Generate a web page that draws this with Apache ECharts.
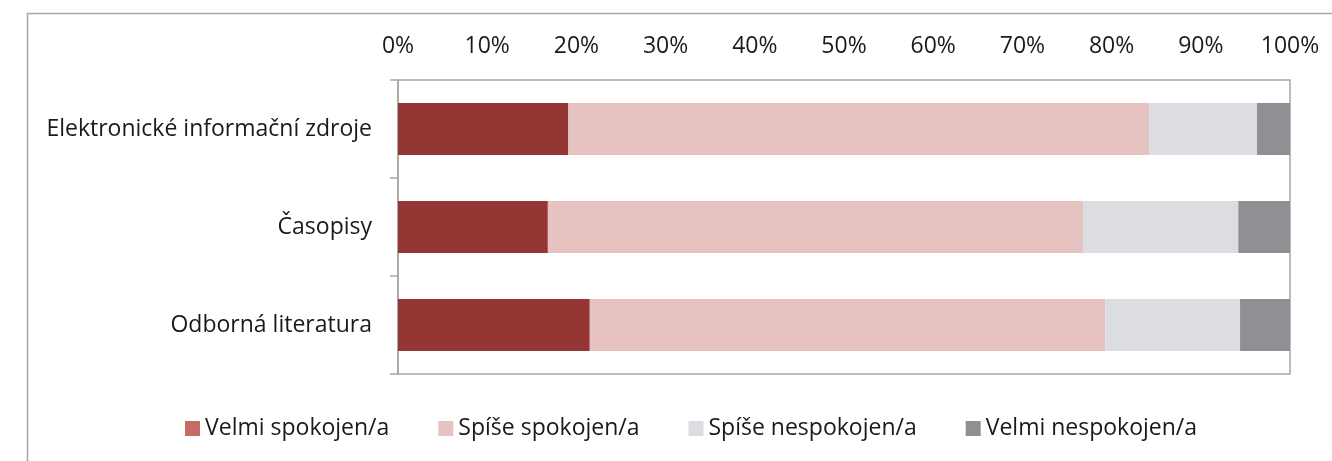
<!DOCTYPE html>
<html>
<head>
<meta charset="utf-8">
<script src="https://cdn.jsdelivr.net/npm/echarts@6/dist/echarts.min.js"></script>
<style>
  html, body { margin: 0; padding: 0; background: #fff; }
  #chart { width: 1332px; height: 461px; }
</style>
</head>
<body>
<div id="chart"></div>
<script>
var categories = ['Elektronické informační zdroje', 'Časopisy', 'Odborná literatura'];
var seriesNames = ['Velmi spokojen/a', 'Spíše spokojen/a', 'Spíše nespokojen/a', 'Velmi nespokojen/a'];
var velmiSpokojen = [19.1, 16.8, 21.5];
var spiseSpokojen = [65.1, 60.0, 57.8];
var spiseNespokojen = [12.1, 17.4, 15.1];
var velmiNespokojen = [3.7, 5.8, 5.6];

var colors = ['#943634', '#e6c3c1', '#dcdde1', '#8e9093'];
var legendColors = ['#c96b65', '#e6c3c1', '#dcdde1', '#8e9093'];
var font = 'Open Sans';
var fontSize = 23;

var chart = echarts.init(document.getElementById('chart'));

function bar(name, data, i) {
    return {
        name: name,
        type: 'bar',
        stack: 'total',
        barWidth: '53%',
        itemStyle: { color: colors[i] },
        data: data
    };
}

var option = {
    animation: false,
    textStyle: { fontFamily: font },
    graphic: [{
        type: 'rect',
        shape: { x: 27.5, y: 13.5, width: 1400, height: 500 },
        style: { fill: 'none', stroke: '#a6a6a6', lineWidth: 1.5 },
        silent: true
    }],
    grid: {
        left: 398, right: 42, top: 80, height: 294,
        show: true, borderColor: '#a6a6a6', borderWidth: 1.5,
        containLabel: false
    },
    legend: {
        top: 412,
        left: 180,
        itemWidth: 15,
        itemHeight: 15,
        itemGap: 49,
        icon: 'rect',
        textStyle: { fontFamily: font, fontSize: fontSize, color: '#1a1a1a' },
        data: seriesNames.map(function (n, i) {
            return { name: n, itemStyle: { color: legendColors[i] } };
        })
    },
    xAxis: {
        type: 'value',
        position: 'top',
        min: 0,
        max: 100,
        interval: 10,
        axisLine: { show: false },
        axisTick: { show: false },
        splitLine: { show: false },
        axisLabel: {
            formatter: '{value}%',
            margin: 22,
            fontFamily: font,
            fontSize: fontSize,
            color: '#1a1a1a'
        }
    },
    yAxis: {
        type: 'category',
        inverse: true,
        data: categories,
        axisLine: { show: true, lineStyle: { color: '#a6a6a6', width: 1.5 } },
        axisTick: { show: true, length: 8, lineStyle: { color: '#a6a6a6', width: 1.5 } },
        axisLabel: {
            margin: 26,
            fontFamily: font,
            fontSize: fontSize,
            color: '#1a1a1a'
        }
    },
    series: [
        bar(seriesNames[0], velmiSpokojen, 0),
        bar(seriesNames[1], spiseSpokojen, 1),
        bar(seriesNames[2], spiseNespokojen, 2),
        bar(seriesNames[3], velmiNespokojen, 3)
    ]
};

chart.setOption(option);
</script>
</body>
</html>
